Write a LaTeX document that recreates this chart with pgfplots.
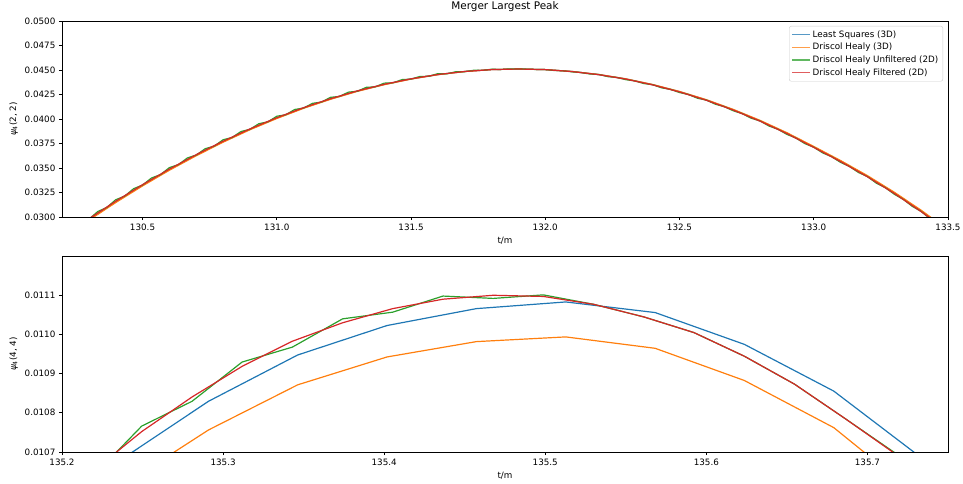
\documentclass[border=0pt]{standalone}
\usepackage{fontspec}
\setmainfont{DejaVu Sans}
\usepackage{pgfplots}
\pgfplotsset{compat=1.18}
\definecolor{c0}{HTML}{1F77B4}
\definecolor{c1}{HTML}{FF7F0E}
\definecolor{c2}{HTML}{2CA02C}
\definecolor{c3}{HTML}{D62728}

\newcommand{\fs}{\fontsize{8.8}{10}\selectfont}

\pgfplotsset{mpl/.style={
  scale only axis, width=886bp, height=196bp,
  axis line style={line width=0.7bp},
  every tick/.style={black, line width=0.7bp},
  tick align=outside, tick pos=left, major tick length=3.1bp,
  tick label style={font=\fs},
  label style={font=\fs},
  scaled ticks=false,
  /pgf/number format/assume math mode=true,
  every axis plot/.append style={line width=1.2bp, line join=round},
  xlabel={t/m},
}}

\begin{document}
\begin{tikzpicture}
\path[use as bounding box] (0,0) rectangle (963bp,484bp);

% top panel
\begin{axis}[mpl, at={(62bp,267bp)}, anchor=south west,
  xmin=130.2, xmax=133.5, ymin=0.03, ymax=0.05,
  xtick={130.5,131,...,133.5},
  ytick={0.03,0.0325,...,0.0501},
  xticklabel style={/pgf/number format/.cd, fixed, fixed zerofill, precision=1},
  yticklabel style={/pgf/number format/.cd, fixed, fixed zerofill, precision=4},
  ylabel={\textit{ψ}\textsubscript{4}(2, 2)},
  title={Merger Largest Peak}, title style={font=\fontsize{10.5}{12}\selectfont},
  legend style={at={(1,1)}, anchor=north east, xshift=-5bp, yshift=-5bp,
    draw=black!20, rounded corners=2bp, fill=white, fill opacity=0.8, text opacity=1,
    font=\fs, cells={anchor=west}, inner sep=2.5bp, row sep=0.5bp},
  legend image code/.code={\draw[#1, line width=1.3bp, opacity=0.75] (0bp,0bp) -- (17.6bp,0bp);},
]
\addplot[c0] coordinates {
(130.2,0.02784)(130.3,0.02974)(130.4,0.03154)(130.5,0.03324)(130.6,0.03483)(130.7,0.03631)
(130.8,0.03768)(130.9,0.03895)(131.0,0.04009)(131.1,0.04113)(131.2,0.04204)(131.3,0.04285)
(131.4,0.04352)(131.5,0.04409)(131.6,0.04453)(131.7,0.04485)(131.8,0.04504)(131.9,0.04510)
(132.0,0.04504)(132.1,0.04485)(132.2,0.04453)(132.3,0.04409)(132.4,0.04350)(132.5,0.04279)
(132.6,0.04194)(132.7,0.04095)(132.8,0.03982)(132.9,0.03856)(133.0,0.03715)(133.1,0.03571)
(133.2,0.03416)(133.3,0.03247)(133.4,0.03062)(133.5,0.02863)
};
\addlegendentry{Least Squares (3D)}
\addplot[c1] coordinates {
(130.2,0.02776)(130.3,0.02966)(130.4,0.03147)(130.5,0.03317)(130.6,0.03477)(130.7,0.03625)
(130.8,0.03763)(130.9,0.03890)(131.0,0.04005)(131.1,0.04109)(131.2,0.04201)(131.3,0.04282)
(131.4,0.04350)(131.5,0.04407)(131.6,0.04452)(131.7,0.04484)(131.8,0.04504)(131.9,0.04510)
(132.0,0.04504)(132.1,0.04485)(132.2,0.04454)(132.3,0.04410)(132.4,0.04352)(132.5,0.04281)
(132.6,0.04197)(132.7,0.04098)(132.8,0.03986)(132.9,0.03860)(133.0,0.03720)(133.1,0.03576)
(133.2,0.03422)(133.3,0.03253)(133.4,0.03069)(133.5,0.02870)
};
\addlegendentry{Driscol Healy (3D)}
\addplot[c2] coordinates {
(130.2000,0.02806)(130.2333,0.02850)(130.2667,0.02933)(130.3000,0.02977)(130.3333,0.03056)
(130.3667,0.03097)(130.4000,0.03176)(130.4333,0.03213)(130.4667,0.03289)(130.5000,0.03326)
(130.5333,0.03398)(130.5667,0.03432)(130.6000,0.03504)(130.6333,0.03534)(130.6667,0.03602)
(130.7000,0.03632)(130.7333,0.03697)(130.7667,0.03723)(130.8000,0.03788)(130.8333,0.03811)
(130.8667,0.03872)(130.9000,0.03895)(130.9333,0.03952)(130.9667,0.03971)(131.0000,0.04028)
(131.0333,0.04043)(131.0667,0.04097)(131.1000,0.04112)(131.1333,0.04160)(131.1667,0.04173)
(131.2000,0.04221)(131.2333,0.04230)(131.2667,0.04274)(131.3000,0.04283)(131.3333,0.04323)
(131.3667,0.04328)(131.4000,0.04366)(131.4333,0.04369)(131.4667,0.04402)(131.5000,0.04407)
(131.5333,0.04434)(131.5667,0.04436)(131.6000,0.04463)(131.6333,0.04461)(131.6667,0.04482)
(131.7000,0.04483)(131.7333,0.04497)(131.7667,0.04496)(131.8000,0.04508)(131.8333,0.04505)
(131.8667,0.04511)(131.9000,0.04510)(131.9333,0.04509)(131.9667,0.04505)(132.0000,0.04504)
(132.0333,0.04495)(132.0667,0.04492)(132.1000,0.04481)(132.1333,0.04474)(132.1667,0.04459)
(132.2000,0.04454)(132.2333,0.04432)(132.2667,0.04424)(132.3000,0.04401)(132.3333,0.04389)
(132.3667,0.04362)(132.4000,0.04350)(132.4333,0.04318)(132.4667,0.04302)(132.5000,0.04270)
(132.5333,0.04250)(132.5667,0.04212)(132.6000,0.04193)(132.6333,0.04151)(132.6667,0.04126)
(132.7000,0.04084)(132.7333,0.04055)(132.7667,0.04008)(132.8000,0.03980)(132.8333,0.03928)
(132.8667,0.03895)(132.9000,0.03843)(132.9333,0.03806)(132.9667,0.03749)(133.0000,0.03712)
(133.0333,0.03654)(133.0667,0.03615)(133.1000,0.03557)(133.1333,0.03515)(133.1667,0.03454)
(133.2000,0.03412)(133.2333,0.03345)(133.2667,0.03299)(133.3000,0.03232)(133.3333,0.03180)
(133.3667,0.03109)(133.4000,0.03057)(133.4333,0.02980)(133.4667,0.02922)(133.5000,0.02855)
};
\addlegendentry{Driscol Healy Unfiltered (2D)}
\addplot[c3] coordinates {
(130.2,0.02791)(130.3,0.02981)(130.4,0.03161)(130.5,0.03330)(130.6,0.03489)(130.7,0.03636)
(130.8,0.03773)(130.9,0.03899)(131.0,0.04013)(131.1,0.04116)(131.2,0.04207)(131.3,0.04287)
(131.4,0.04354)(131.5,0.04410)(131.6,0.04454)(131.7,0.04485)(131.8,0.04504)(131.9,0.04510)
(132.0,0.04504)(132.1,0.04484)(132.2,0.04452)(132.3,0.04407)(132.4,0.04348)(132.5,0.04276)
(132.6,0.04191)(132.7,0.04091)(132.8,0.03978)(132.9,0.03851)(133.0,0.03710)(133.1,0.03565)
(133.2,0.03410)(133.3,0.03240)(133.4,0.03055)(133.5,0.02855)
};
\addlegendentry{Driscol Healy Filtered (2D)}
\end{axis}

% bottom panel
\begin{axis}[mpl, at={(62bp,32bp)}, anchor=south west,
  xmin=135.2, xmax=135.75, ymin=0.0107, ymax=0.011199,
  xtick={135.2,135.3,...,135.71},
  ytick={0.0107,0.0108,0.0109,0.0110,0.0111},
  xticklabel style={/pgf/number format/.cd, fixed, fixed zerofill, precision=1},
  yticklabel style={/pgf/number format/.cd, fixed, fixed zerofill, precision=4},
  ylabel={\textit{ψ}\textsubscript{4}(4, 4)},
]
\addplot[c0] coordinates {
(135.2354,0.010677)(135.2909,0.010829)(135.3463,0.010947)(135.4018,0.011022)(135.4572,0.011065)
(135.5127,0.011082)(135.5682,0.011055)(135.6236,0.010974)(135.6791,0.010855)(135.7345,0.010682)
};
\addplot[c1] coordinates {
(135.2354,0.010609)(135.2909,0.010756)(135.3463,0.010871)(135.4018,0.010942)(135.4572,0.010981)
(135.5127,0.010993)(135.5682,0.010964)(135.6236,0.010882)(135.6791,0.010762)(135.7345,0.010578)
};
\addplot[c2] coordinates {
(135.2183,0.010634)(135.2495,0.010766)(135.2807,0.010829)(135.3118,0.010929)(135.3430,0.010967)
(135.3742,0.011039)(135.4053,0.011056)(135.4365,0.011097)(135.4677,0.011091)(135.4988,0.011100)
(135.5300,0.011076)(135.5611,0.011044)(135.5923,0.011004)(135.6235,0.010944)(135.6546,0.010873)
(135.6858,0.010786)(135.7170,0.010698)(135.7481,0.010600)
};
\addplot[c3] coordinates {
(135.2183,0.010648)(135.2495,0.010752)(135.2807,0.010840)(135.3118,0.010918)(135.3430,0.010982)
(135.3742,0.011029)(135.4053,0.011065)(135.4365,0.011089)(135.4677,0.011099)(135.4988,0.011096)
(135.5300,0.011076)(135.5611,0.011044)(135.5923,0.011004)(135.6235,0.010944)(135.6546,0.010873)
(135.6858,0.010786)(135.7170,0.010696)(135.7481,0.010600)
};
\end{axis}
\end{tikzpicture}
\end{document}
